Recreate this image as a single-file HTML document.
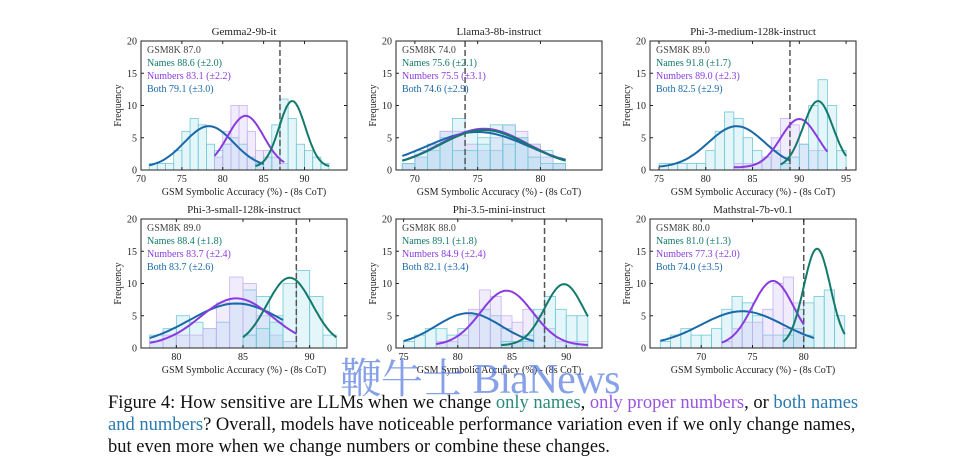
<!DOCTYPE html><html><head><meta charset="utf-8"><style>
body{margin:0;background:#fff;width:975px;height:468px;overflow:hidden;position:relative;font-family:"Liberation Serif",serif}
.cap{position:absolute;left:108px;top:392px;font-size:18.5px;line-height:22px;color:#111;white-space:nowrap}
.wm{position:absolute;left:340px;top:346px;font-size:42px;color:rgba(70,110,220,0.65);font-family:"Liberation Serif","Noto Serif CJK SC",serif;letter-spacing:-1px}
</style></head><body>
<svg id="s" width="975" height="468" style="position:absolute;left:0;top:0" font-family="Liberation Serif, serif"></svg>
<div class="wm">鞭牛士 BiaNews</div>
<div class="cap">Figure 4: How sensitive are LLMs when we change <span style="color:#2a8a7a">only names</span>, <span style="color:#9a55e0">only proper numbers</span>, or <span style="color:#2a7ab0">both names</span><br><span style="color:#2a7ab0">and numbers</span>? Overall, models have noticeable performance variation even if we only change names,<br>but even more when we change numbers or combine these changes.</div>
<script>
const NS="http://www.w3.org/2000/svg",S=document.getElementById('s');
function el(t,a,txt){const e=document.createElementNS(NS,t);for(const k in a)e.setAttribute(k,a[k]);if(txt!=null)e.textContent=txt;S.appendChild(e);return e;}
const TEAL="#137a6b",PUR="#8a3be0",BLU="#1a68a8";
const P=[
{t:"Gemma2-9b-it",L:141,T:41,x0:70,x1:95.2,ticks:[70,75,80,85,90],d:87,leg:["GSM8K 87.0","Names 88.6 (±2.0)","Numbers 83.1 (±2.2)","Both 79.1 (±3.0)"],
 c:[[BLU,78.3,3,6.4,71,85],[PUR,82.8,2.2,8,79,87.5],[TEAL,88.5,1.6,10.3,84,93]]},
{t:"Llama3-8b-instruct",L:396,T:41,x0:68.5,x1:84.9,ticks:[70,75,80],d:74,leg:["GSM8K 74.0","Names 75.6 (±2.1)","Numbers 75.5 (±3.1)","Both 74.6 (±2.9)"],
 c:[[BLU,75,4,5.5,69,82],[PUR,75.5,3.5,6,69,82],[TEAL,75.5,3.5,5.8,69,82]]},
{t:"Phi-3-medium-128k-instruct",L:650,T:41,x0:74.04,x1:96.06,ticks:[75,80,85,90,95],d:89,leg:["GSM8K 89.0","Names 91.8 (±1.7)","Numbers 89.0 (±2.3)","Both 82.5 (±2.9)"],
 c:[[BLU,83.3,3,6.4,75,89],[PUR,90,2,7.5,83,93],[TEAL,92,1.6,10.3,88,95]]},
{t:"Phi-3-small-128k-instruct",L:141,T:219,x0:77.35,x1:92.8,ticks:[80,85,90],d:89,leg:["GSM8K 89.0","Names 88.4 (±1.8)","Numbers 83.7 (±2.4)","Both 83.7 (±2.6)"],
 c:[[BLU,84.5,3.5,6.5,78,88],[PUR,84.5,2.7,7.3,78,89],[TEAL,88.5,1.7,10.5,85,92]]},
{t:"Phi-3.5-mini-instruct",L:396,T:219,x0:74.3,x1:93.3,ticks:[75,80,85,90],d:88,leg:["GSM8K 88.0","Names 89.1 (±1.8)","Numbers 84.9 (±2.4)","Both 82.1 (±3.4)"],
 c:[[BLU,81,3,5,75,87],[PUR,84.5,2.4,8.5,78,92],[TEAL,89.8,1.8,9.5,84,92]]},
{t:"Mathstral-7b-v0.1",L:650,T:219,x0:65,x1:85.1,ticks:[70,75,80],d:80,leg:["GSM8K 80.0","Names 81.0 (±1.3)","Numbers 77.3 (±2.0)","Both 74.0 (±3.5)"],
 c:[[BLU,74,4,5.3,66,81],[PUR,77,2,10,72,80],[TEAL,81.3,1.3,15,78,84]]}];
const W=206,H=129;
P.forEach((p,pi)=>{
 const X=v=>p.L+(v-p.x0)/(p.x1-p.x0)*W, Y=v=>p.T+H-v/20*H;
 p.c.forEach((c,ci)=>{const [col,mu,sg,a,lo,hi]=c;
  for(let b=lo;b<hi;b+=1){let g=a*Math.exp(-((b+0.5-mu)**2)/(2*sg*sg));g*=1+0.5*Math.sin(b*7.3+pi*3+ci);g=Math.max(1,Math.round(g));
   el('rect',{x:X(b),y:Y(g),width:X(b+1)-X(b),height:Y(0)-Y(g),fill:ci==1?"rgba(200,180,245,0.25)":"rgba(150,220,235,0.25)",stroke:ci==1?"#c6b2f0":"#70c8d8","stroke-width":0.8});}
 });
 el('line',{x1:X(p.d),x2:X(p.d),y1:p.T,y2:p.T+H,stroke:"#555","stroke-width":1.5,"stroke-dasharray":"6,3"});
 p.c.forEach(c=>{const [col,mu,sg,a,lo,hi]=c;let d="";
  for(let i=0;i<=40;i++){const v=lo+(hi-lo)*i/40;const g=a*Math.exp(-((v-mu)**2)/(2*sg*sg))+0.4;d+=(i?"L":"M")+X(v).toFixed(1)+","+Y(g).toFixed(1);}
  el('path',{d:d,fill:"none",stroke:col,"stroke-width":2});});
 el('rect',{x:p.L,y:p.T,width:W,height:H,fill:"none",stroke:"#222","stroke-width":1});
 [0,5,10,15,20].forEach(v=>{el('line',{x1:p.L,x2:p.L+3,y1:Y(v),y2:Y(v),stroke:"#222"});el('line',{x1:p.L+W,x2:p.L+W-3,y1:Y(v),y2:Y(v),stroke:"#222"});
  el('text',{x:p.L-4,y:Y(v)+3.5,"font-size":10,"text-anchor":"end",fill:"#222"},v);});
 p.ticks.forEach(v=>{el('line',{x1:X(v),x2:X(v),y1:p.T+H,y2:p.T+H-3,stroke:"#222"});el('line',{x1:X(v),x2:X(v),y1:p.T,y2:p.T+3,stroke:"#222"});
  el('text',{x:X(v),y:p.T+H+12,"font-size":10,"text-anchor":"middle",fill:"#222"},v);});
 el('text',{x:p.L+W/2,y:p.T-6,"font-size":11,"text-anchor":"middle",fill:"#222"},p.t);
 el('text',{x:p.L+W/2,y:p.T+H+25,"font-size":10,"text-anchor":"middle",fill:"#222"},"GSM Symbolic Accuracy (%) - (8s CoT)");
 el('text',{transform:`translate(${p.L-20},${p.T+H/2}) rotate(-90)`,"font-size":10,"text-anchor":"middle",fill:"#222"},"Frequency");
 const lc=["#444",TEAL,PUR,BLU];
 p.leg.forEach((s,i)=>el('text',{x:p.L+6,y:p.T+12+i*13,"font-size":10,fill:lc[i]},s));
});
</script>
</body></html>
